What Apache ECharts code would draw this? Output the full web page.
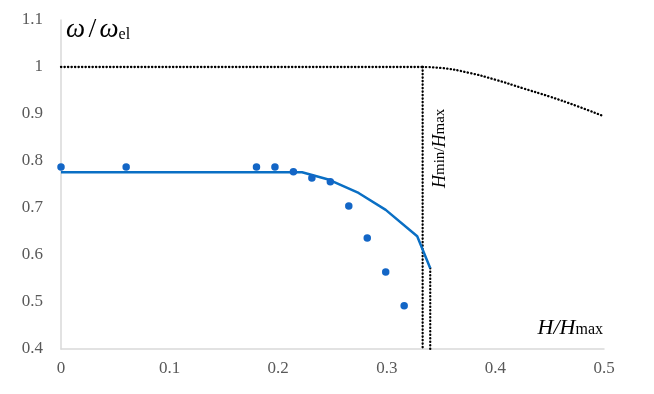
<!DOCTYPE html>
<html>
<head>
<meta charset="utf-8">
<script src="https://cdn.jsdelivr.net/npm/echarts@6/dist/echarts.min.js"></script>
<style>
  html, body { margin: 0; padding: 0; background: #fff; }
  #chart { width: 654px; height: 394px; }
</style>
</head>
<body>
<div id="chart"></div>
<script>
  // measured points (scatter)
  const measX = [0, 0.06, 0.18, 0.197, 0.214, 0.231, 0.248, 0.265, 0.282, 0.299, 0.316];
  const measY = [0.787, 0.787, 0.787, 0.787, 0.777, 0.764, 0.756, 0.704, 0.636, 0.564, 0.492];

  // model curve (solid blue)
  const modelX = [0, 0.222, 0.247, 0.274, 0.299, 0.328, 0.340];
  const modelY = [0.776, 0.776, 0.760, 0.732, 0.696, 0.640, 0.572];

  // upper limit (dotted): flat part then falling curve
  const limitFlatX = [0, 0.333];
  const limitFlatY = [1.0, 1.0];
  const limitCurveX = [0.333, 0.35, 0.375, 0.4, 0.425, 0.45, 0.475, 0.5];
  const limitCurveY = [1.0, 0.998, 0.988, 0.973, 0.955, 0.937, 0.917, 0.895];

  // vertical markers at Hmin/Hmax
  const vline1X = [0.333, 0.333];
  const vline1Y = [1.0, 0.4];
  const vline2X = [0.340, 0.340];
  const vline2Y = [0.572, 0.4];

  const xTicks = [0, 0.1, 0.2, 0.3, 0.4, 0.5];

  function zip(xs, ys) {
    return xs.map((x, i) => [x, ys[i]]);
  }

  const blue = '#0A6FC4';
  // round dots like Excel's "round dot" dash
  const dotted = { color: '#000', width: 2.3, type: [0.3, 3.2], cap: 'round' };
  const serif = '"Liberation Serif", "Times New Roman", serif';

  const chart = echarts.init(document.getElementById('chart'));

  const option = {
    animation: false,
    grid: { left: 61, right: 50, top: 20, bottom: 45 },
    xAxis: {
      type: 'value',
      min: xTicks[0],
      max: xTicks[xTicks.length - 1],
      interval: 0.1,
      axisLine: { lineStyle: { color: '#d9d9d9', width: 1.5 } },
      axisTick: { show: false },
      splitLine: { show: false },
      axisLabel: { color: '#595959', fontFamily: serif, fontSize: 17, margin: 11 }
    },
    yAxis: {
      type: 'value',
      min: 0.4,
      max: 1.1,
      interval: 0.1,
      axisLine: { show: true, lineStyle: { color: '#d9d9d9', width: 1.5 } },
      axisTick: { show: false },
      splitLine: { show: false },
      axisLabel: { color: '#595959', fontFamily: serif, fontSize: 17, margin: 18 }
    },
    series: [
      {
        type: 'line',
        data: zip(limitFlatX, limitFlatY),
        symbol: 'none',
        lineStyle: dotted,
        z: 1
      },
      {
        type: 'line',
        data: zip(limitCurveX, limitCurveY),
        symbol: 'none',
        smooth: true,
        lineStyle: dotted,
        z: 1
      },
      {
        type: 'line',
        data: zip(vline1X, vline1Y),
        symbol: 'none',
        lineStyle: dotted,
        z: 1
      },
      {
        type: 'line',
        data: zip(vline2X, vline2Y),
        symbol: 'none',
        lineStyle: dotted,
        z: 1
      },
      {
        type: 'line',
        data: zip(modelX, modelY),
        symbol: 'none',
        lineStyle: { color: blue, width: 2.5 },
        z: 2
      },
      {
        type: 'scatter',
        data: zip(measX, measY),
        symbolSize: 7.5,
        itemStyle: { color: '#1366C6', opacity: 1 },
        z: 3
      }
    ],
    graphic: [
      {
        type: 'text',
        left: 66,
        top: 16,
        style: {
          text: '{w|ω} {s|/} {w|ω}{sub|el}',
          rich: {
            w: { fontFamily: serif, fontSize: 27, fontStyle: 'italic', fill: '#000' },
            s: { fontFamily: serif, fontSize: 28, fill: '#000' },
            sub: { fontFamily: serif, fontSize: 16, fill: '#000', padding: [10, 0, 0, 0] }
          }
        }
      },
      {
        type: 'text',
        x: 431,
        y: 188,
        rotation: Math.PI / 2,
        style: {
          text: '{i|H}{n|min}{n|/}{i|H}{n|max}',
          rich: {
            i: { fontFamily: serif, fontSize: 18, fontStyle: 'italic', fill: '#000' },
            n: { fontFamily: serif, fontSize: 15, fill: '#000' }
          },
          verticalAlign: 'top'
        }
      },
      {
        type: 'text',
        right: 51,
        top: 317,
        style: {
          text: '{i|H/H}{n|max}',
          rich: {
            i: { fontFamily: serif, fontSize: 22, fontStyle: 'italic', fill: '#000' },
            n: { fontFamily: serif, fontSize: 16, fill: '#000', padding: [4, 0, 0, 0] }
          }
        }
      }
    ]
  };

  chart.setOption(option);
</script>
</body>
</html>
